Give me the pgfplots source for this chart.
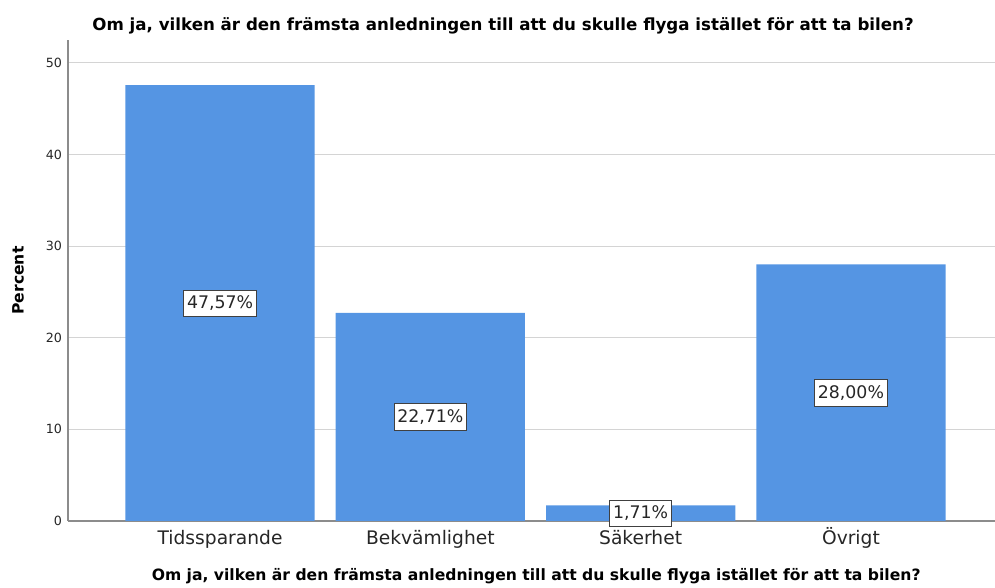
\documentclass[border=0pt]{standalone}
\usepackage{pgfplots}
\pgfplotsset{compat=1.18}
\usepackage{fontspec}
\setmainfont{DejaVu Sans}
\definecolor{barblue}{RGB}{85,149,227}
\definecolor{gridgrey}{RGB}{212,212,212}
\definecolor{axisgrey}{RGB}{140,140,140}
\begin{document}
\begin{tikzpicture}[x=1pt,y=1pt]
\useasboundingbox (-51pt,-50.25pt) rectangle (695.25pt,390.75pt);
\begin{axis}[
  at={(0,0)}, anchor=south west,
  scale only axis,
  width=695.25pt, height=360.75pt,
  xmin=-0.723, xmax=3.685,
  ymin=0, ymax=52.5,
  axis x line*=bottom, axis y line*=left,
  axis line style={draw=axisgrey, line width=0.8pt},
  ytick={0,10,20,30,40,50},
  xtick={0,1,2,3},
  xticklabels={Tidssparande,Bekvämlighet,Säkerhet,Övrigt},
  major tick length=0pt,
  ymajorgrids,
  grid style={draw=gridgrey, line width=0.8pt},
  /pgf/number format/assume math mode=true,
  yticklabel style={font=\fontsize{9.5}{11}\selectfont, text=black!85, xshift=-1pt},
  xticklabel style={font=\fontsize{14}{16}\selectfont, text=black!85, text height=0.95em, text depth=0.25em, yshift=-4.5pt},
  ylabel={\bfseries Percent},
  ylabel style={font=\fontsize{11.7}{14}\selectfont, at={(axis description cs:-0.054,0.5)}, anchor=center},
  xlabel={\bfseries Om ja, vilken är den främsta anledningen till att du skulle flyga istället för att ta bilen?},
  xlabel style={font=\fontsize{11.7}{14}\selectfont, at={(axis description cs:0.505,-0.114)}, anchor=center},
  every axis title shift=0pt,
  title={\bfseries Om ja, vilken är den främsta anledningen till att du skulle flyga istället för att ta bilen?},
  title style={font=\fontsize{12.5}{15}\selectfont, at={(axis description cs:0.4693,1.0291)}, anchor=center, yshift=0pt},
  clip=false,
]
\addplot[ybar, bar width=0.9, fill=barblue, draw=none] coordinates {
  (0,47.57) (1,22.71) (2,1.71) (3,28.00)
};
\addplot[draw=none, mark=none,
  point meta=explicit symbolic,
  nodes near coords,
  nodes near coords style={anchor=center, fill=white, draw=black!75, line width=0.6pt,
     inner xsep=2.5pt, inner ysep=4.3pt,
     font=\fontsize{13}{15}\selectfont, text=black!85}]
  coordinates {
  (0,23.785) [47,57\%]
  (1,11.355) [22,71\%]
  (2,0.855) [1,71\%]
  (3,14.0) [28,00\%]
};
\end{axis}
\end{tikzpicture}
\end{document}
